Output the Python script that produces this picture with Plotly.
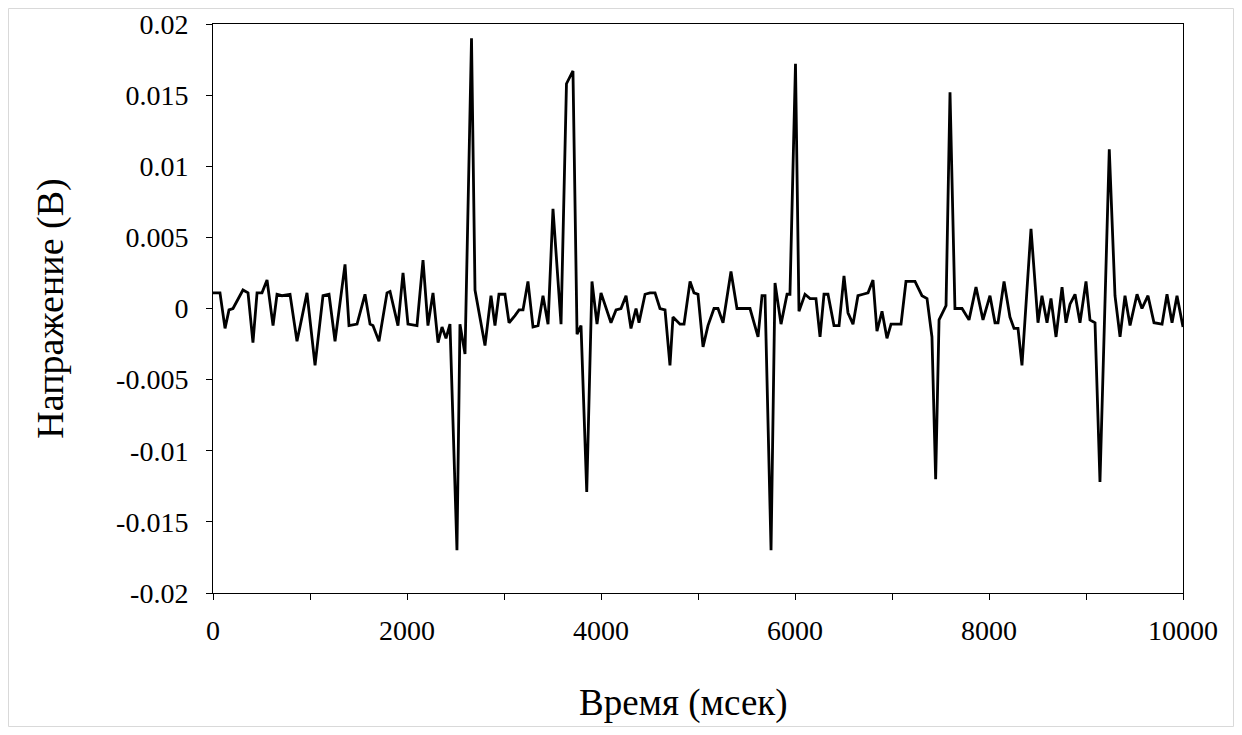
import plotly.graph_objects as go

# Time (ms) and voltage (V)
time_ms = [0, 72, 124, 165, 206, 309, 361, 412, 454, 505, 557, 619, 660, 711, 794, 866,
           969, 1052, 1134, 1196, 1258, 1361, 1402, 1485, 1567, 1619, 1649, 1711, 1794, 1825,
           1907, 1959, 2010, 2103, 2165, 2216, 2268, 2320, 2361, 2402, 2443, 2515, 2546, 2598,
           2665, 2701, 2804, 2866, 2907, 2948, 3010, 3052, 3113, 3155, 3196, 3247, 3299, 3351,
           3402, 3454, 3505, 3588, 3644, 3711, 3753, 3794, 3853, 3907, 3959, 4000, 4103, 4155,
           4206, 4258, 4309, 4361, 4392, 4454, 4505, 4557, 4608, 4660, 4711, 4742, 4814, 4856,
           4918, 4959, 5000, 5052, 5103, 5165, 5206, 5258, 5340, 5402, 5454, 5536, 5619, 5660,
           5691, 5753, 5794, 5856, 5918, 5948, 6005, 6041, 6103, 6155, 6216, 6258, 6299, 6340,
           6402, 6454, 6505, 6546, 6598, 6649, 6701, 6753, 6804, 6845, 6897, 6948, 6990, 7041,
           7093, 7144, 7186, 7237, 7309, 7361, 7412, 7450, 7485, 7557, 7598, 7649, 7722, 7794,
           7866, 7938, 8010, 8062, 8093, 8155, 8216, 8258, 8299, 8340, 8433, 8505, 8546, 8598,
           8639, 8691, 8753, 8794, 8835, 8887, 8938, 9000, 9041, 9093, 9144, 9240, 9299, 9351,
           9402, 9454, 9526, 9577, 9639, 9701, 9784, 9835, 9887, 9938, 10000]

voltage_v = [0.0011, 0.0011, -0.0014, -0.0001, 0.0, 0.0013, 0.0011, -0.0024, 0.0011, 0.0011,
             0.0020, -0.0012, 0.0010, 0.0009, 0.0010, -0.0023, 0.0011, -0.0040, 0.0009, 0.0010,
             -0.0023, 0.0031, -0.0012, -0.0011, 0.0010, -0.0011, -0.0012, -0.0023, 0.0011, 0.0012,
             -0.0012, 0.0025, -0.0011, -0.0012, 0.0034, -0.0012, 0.0011, -0.0024, -0.0013, -0.0021,
             -0.0011, -0.0170, -0.0011, -0.0032, 0.0190, 0.0013, -0.0026, 0.0009, -0.0012, 0.0010,
             0.0010, -0.0010, -0.0005, -0.0001, -0.0001, 0.0019, -0.0013, -0.0012, 0.0009, -0.0011,
             0.0070, -0.0011, 0.0158, 0.0167, -0.0018, -0.0012, -0.0129, 0.0019, -0.0011, 0.0011,
             -0.0010, -0.0001, 0.0, 0.0009, -0.0014, 0.0, -0.0010, 0.0010, 0.0011, 0.0011,
             0.0, -0.0001, -0.0040, -0.0006, -0.0011, -0.0011, 0.0019, 0.0011, 0.0010, -0.0027,
             -0.0012, 0.0, 0.0, -0.0010, 0.0026, 0.0, 0.0, 0.0, -0.0020, 0.0009,
             0.0009, -0.0170, 0.0018, -0.0011, 0.0010, 0.0010, 0.0172, -0.0002, 0.0010, 0.0007,
             0.0007, -0.0020, 0.0010, 0.0010, -0.0012, -0.0012, 0.0023, -0.0003, -0.0011, 0.0009,
             0.0010, 0.0011, 0.0020, -0.0016, -0.0002, -0.0021, -0.0011, -0.0011, -0.0011, 0.0019,
             0.0019, 0.0019, 0.0009, 0.0007, -0.0020, -0.0120, -0.0008, 0.0002, 0.0152, 0.0,
             0.0, -0.0008, 0.0015, -0.0008, 0.0009, -0.0010, -0.0010, 0.0019, -0.0006, -0.0014,
             -0.0014, -0.0040, 0.0056, -0.0010, 0.0009, -0.0010, 0.0007, -0.0020, 0.0015, -0.0010,
             0.0003, 0.0010, -0.0010, 0.0019, -0.0008, -0.0010, -0.0122, 0.0112, 0.0009, -0.0020,
             0.0009, -0.0012, 0.0010, 0.0, 0.0009, -0.0010, -0.0011, 0.0010, -0.0010, 0.0009,
             -0.0013]

x_tick_vals = [0, 1000, 2000, 3000, 4000, 5000, 6000, 7000, 8000, 9000, 10000]
x_tick_text = ["0", "", "2000", "", "4000", "", "6000", "", "8000", "", "10000"]
y_tick_vals = [-0.02, -0.015, -0.01, -0.005, 0, 0.005, 0.01, 0.015, 0.02]
y_tick_text = ["-0.02", "-0.015", "-0.01", "-0.005", "0", "0.005", "0.01", "0.015", "0.02"]

x_title = "Время (мсек)"
y_title = "Напражение (В)"

fig = go.Figure()
fig.add_trace(go.Scatter(x=time_ms, y=voltage_v, mode="lines",
                         line=dict(color="black", width=2.8), showlegend=False,
                         cliponaxis=False))

serif = "Liberation Serif"

W, H = 1226, 719
L, R, T, B = 205, 51, 16, 134
pw, ph = W - L - R, H - T - B

fig.update_layout(
    width=W, height=H,
    margin=dict(l=L, r=R, t=T, b=B, autoexpand=False),
    paper_bgcolor="white", plot_bgcolor="white",
    font=dict(family=serif, size=28, color="black"),
    shapes=[dict(type="rect", xref="paper", yref="paper",
                 x0=(-L + 0.5) / pw, x1=(pw + R - 0.5) / pw,
                 y0=(-B + 0.5) / ph, y1=(ph + T - 0.5) / ph,
                 line=dict(color="#d9d9d9", width=1), fillcolor="rgba(0,0,0,0)", layer="below")],
    annotations=[dict(text=x_title, xref="paper", yref="paper",
                      x=(683 - 213) / pw, y=-110 / ph, xanchor="center", yanchor="middle",
                      showarrow=False, font=dict(family=serif, size=37, color="black"))],
)
fig.update_xaxes(range=[0, 10000], tickmode="array", tickvals=x_tick_vals, ticktext=x_tick_text,
                 tickfont=dict(family=serif, size=28, color="black"), ticklabelstandoff=6,
                 ticks="outside", ticklen=6, tickcolor="black", tickwidth=1,
                 showline=True, linecolor="black", linewidth=1, mirror=True,
                 showgrid=False, zeroline=False, automargin=False)
fig.update_yaxes(range=[-0.02, 0.02], tickmode="array", tickvals=y_tick_vals, ticktext=y_tick_text,
                 tickfont=dict(family=serif, size=28, color="black"), ticklabelstandoff=12,
                 ticks="outside", ticklen=6, tickcolor="black", tickwidth=1,
                 showline=True, linecolor="black", linewidth=1, mirror=True,
                 showgrid=False, zeroline=False, automargin=False,
                 title=dict(text=y_title, font=dict(family=serif, size=38), standoff=40))

fig.write_html("out.html")
